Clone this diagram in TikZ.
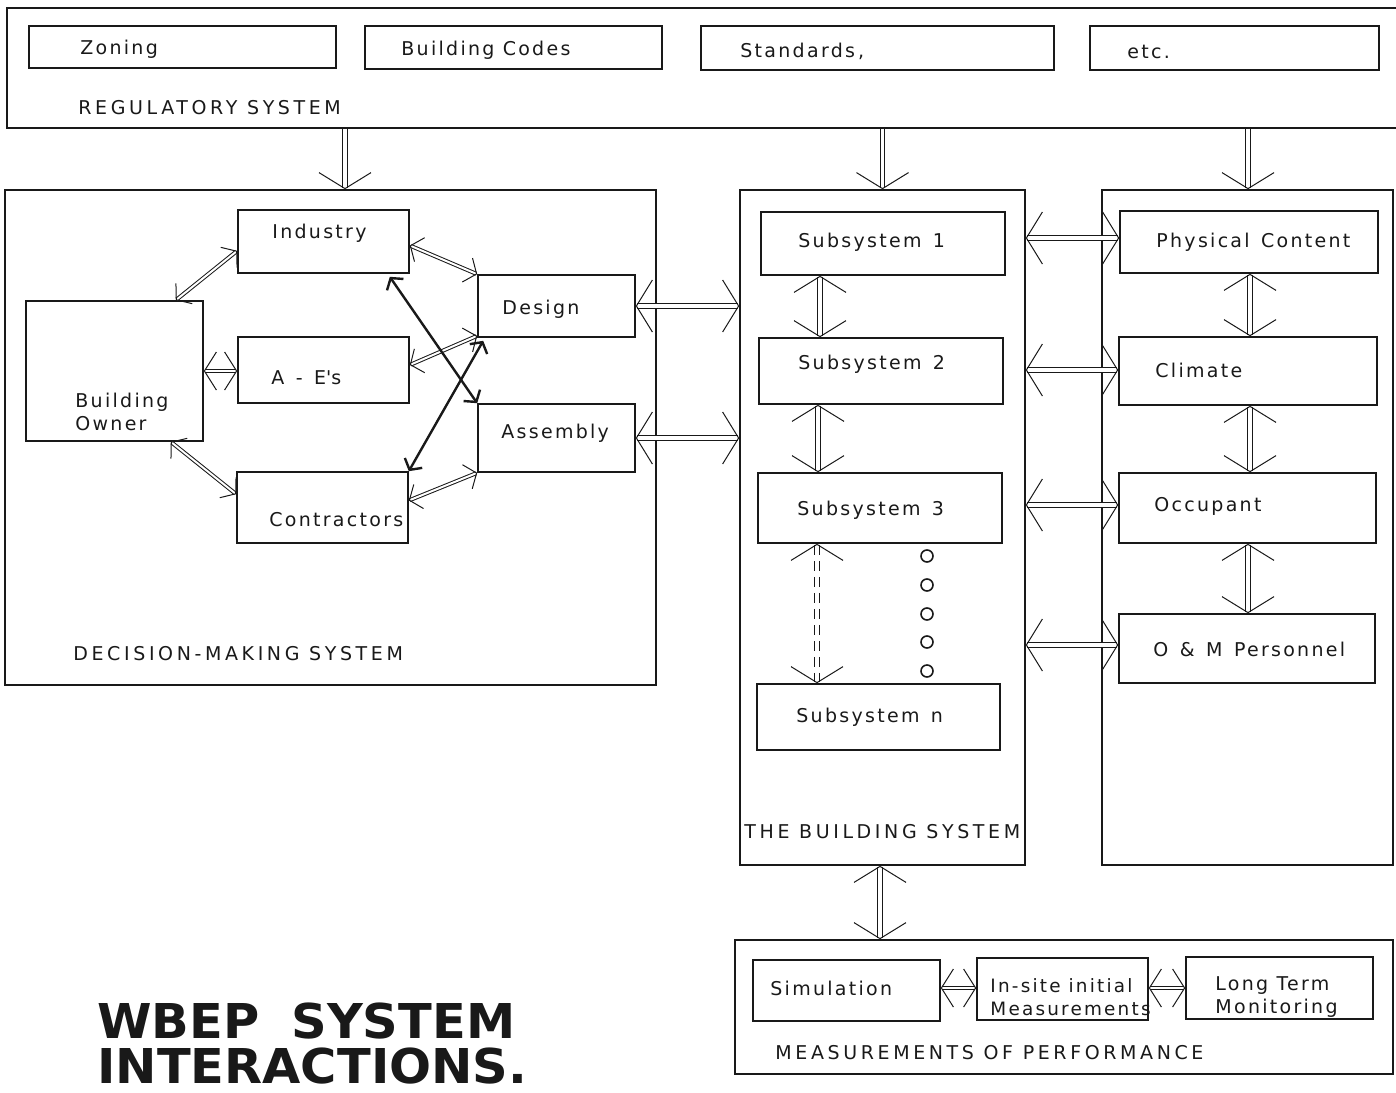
\documentclass[tikz,border=0pt]{standalone}
\usepackage{fontspec}
\setmainfont{DejaVu Sans}[LetterSpace=12]
\newfontfamily\capsfont{DejaVu Sans}[LetterSpace=19]
\newfontfamily\titlefont{DejaVu Sans}[FakeStretch=1.03]
\usetikzlibrary{arrows.meta, fit, calc}
\definecolor{ink}{RGB}{25, 25, 25}

\begin{document}
\begin{tikzpicture}[x=0.5pt, y=-0.5pt,
            box/.style={draw=ink, thick, rectangle, inner sep=0pt},
            frame/.style={draw=ink, thick, rectangle, inner sep=0pt},
            txt/.style={anchor=west, inner sep=0pt, align=left, font=\fontsize{9.5}{11.5}\selectfont, text=ink},
            caps/.style={txt, font=\capsfont\fontsize{9.5}{11.5}\selectfont},
            title/.style={anchor=base west, inner sep=0pt, text=ink, font=\titlefont\bfseries\fontsize{24}{24}\selectfont},
            dot/.style={circle, draw=ink, thick, minimum size=6pt, inner sep=0pt},
            >={Straight Barb[length=8pt, width=26pt]},
            arrow/.style={<->, draw=ink, line width=0.5pt, double=white, double distance=1.6pt},
            down/.style={->, draw=ink, line width=0.5pt, double=white, double distance=1.6pt},
            short/.style={{Straight Barb[length=6pt, width=19pt]}-{Straight Barb[length=6pt, width=19pt]}, draw=ink, line width=0.5pt, double=white, double distance=1.2pt},
            slim/.style={{Straight Barb[length=5pt, width=13pt]}-{Straight Barb[length=5pt, width=13pt]}, draw=ink, line width=0.5pt, double=white, double distance=1pt},
            cross/.style={{Straight Barb[length=4pt, width=10pt]}-{Straight Barb[length=4pt, width=10pt]}, draw=ink, line width=1.2pt}
        ]
            \useasboundingbox (0,0) rectangle (1396,1092);

            % regulatory system
            \node[frame, fit={(7,8) (1400,128)}] (regulatory) {};
            \node[box, fit={(29,26) (336,68)}] (zoning) {};
            \node[box, fit={(365,26) (662,69)}] (codes) {};
            \node[box, fit={(701,26) (1054,70)}] (standards) {};
            \node[box, fit={(1090,26) (1379,70)}] (etc) {};
            \node[txt] (zoning-t) at (80,49) {Zoning};
            \node[txt] (codes-t) at (401,50) {Building Codes};
            \node[txt] (standards-t) at (740,51) {Standards\,,};
            \node[txt] (etc-t) at (1127,52) {etc.};
            \node[caps] (regulatory-t) at (78,108) {REGULATORY SYSTEM};

            % decision-making system
            \node[frame, fit={(5,190) (656,685)}] (decision) {};
            \node[box, fit={(238,210) (409,273)}] (industry) {};
            \node[box, fit={(26,301) (203,441)}] (owner) {};
            \node[box, fit={(238,337) (409,403)}] (ae) {};
            \node[box, fit={(237,472) (408,543)}] (contractors) {};
            \node[box, fit={(478,275) (635,337)}] (design) {};
            \node[box, fit={(478,404) (635,472)}] (assembly) {};
            \node[txt] (industry-t) at (272,233) {Industry};
            \node[txt] (owner-t) at (75,412) {Building\\Owner};
            \node[txt] (ae-t) at (271,378) {A \,-\, E\textquotesingle s};
            \node[txt] (contractors-t) at (269,520) {Contractors};
            \node[txt] (design-t) at (502,309) {Design};
            \node[txt] (assembly-t) at (501,433) {Assembly};
            \node[caps] (decision-t) at (73,654) {DECISION-MAKING SYSTEM};

            % the building system
            \node[frame, fit={(740,190) (1025,865)}] (building) {};
            \node[box, fit={(761,212) (1005,275)}] (sub1) {};
            \node[box, fit={(759,338) (1003,404)}] (sub2) {};
            \node[box, fit={(758,473) (1002,543)}] (sub3) {};
            \node[box, fit={(757,684) (1000,750)}] (subn) {};
            \node[txt] (sub1-t) at (798,242) {Subsystem \,1};
            \node[txt] (sub2-t) at (798,364) {Subsystem \,2};
            \node[txt] (sub3-t) at (797,510) {Subsystem \,3};
            \node[txt] (subn-t) at (796,717) {Subsystem \,n};
            \node[caps] (building-t) at (744,832) {THE BUILDING SYSTEM};
            \foreach \y [count=\i] in {556,585,614,642,671}
                \node[dot] (dot\i) at (927,\y) {};

            % environment
            \node[frame, fit={(1102,190) (1393,865)}] (environment) {};
            \node[box, fit={(1120,211) (1378,273)}] (content) {};
            \node[box, fit={(1119,337) (1377,405)}] (climate) {};
            \node[box, fit={(1119,473) (1376,543)}] (occupant) {};
            \node[box, fit={(1119,614) (1375,683)}] (personnel) {};
            \node[txt] (content-t) at (1156,242) {Physical \,Content};
            \node[txt] (climate-t) at (1155,370) {Climate};
            \node[txt] (occupant-t) at (1154,506) {Occupant};
            \node[txt] (personnel-t) at (1153,649) {O \,\& \,M \,Personnel};

            % measurements of performance
            \node[frame, fit={(735,940) (1393,1074)}] (performance) {};
            \node[box, fit={(753,960) (940,1021)}] (simulation) {};
            \node[box, fit={(977,958) (1148,1020)}] (insite) {};
            \node[box, fit={(1186,957) (1373,1019)}] (longterm) {};
            \node[txt] (simulation-t) at (770,988) {Simulation};
            \node[txt, font=\fontsize{9.2}{11.5}\selectfont] (insite-t) at (990,997) {In-site initial\\Measurements};
            \node[txt] (longterm-t) at (1215,997) {Long Term\\Monitoring};
            \node[caps] (performance-t) at (775,1053) {MEASUREMENTS OF PERFORMANCE};

            % title
            \node[title] (title-a) at (97,1038) {WBEP\hspace{16pt}SYSTEM};
            \node[title] (title-b) at (97,1083) {INTERACTIONS.};

            % connectors
            \draw[down] (regulatory.south -| 345,0) -- (decision.north -| 345,0);
            \draw[down] (regulatory.south -| building.north) -- (building.north);
            \draw[down] (regulatory.south -| 1248,0) -- (environment.north -| 1248,0);

            \draw[slim] ($(owner.north east)+(-28,0)$) -- ($(industry.south west)+(0,-23)$);
            \draw[short] (owner.east) -- (owner.east -| ae.west);
            \draw[slim] ($(owner.south east)+(-33,0)$) -- ($(contractors.north west)+(0,23)$);
            \draw[slim] ($(industry.east)+(0,4)$) -- (design.north west);
            \draw[slim] ($(ae.east)+(0,-5)$) -- ($(design.south west)+(0,-2)$);
            \draw[slim] ($(contractors.east)+(0,-7)$) -- (assembly.south west);
            \draw[cross] ($(industry.south east)+(-20,3)$) -- (assembly.north west);
            \draw[cross] (contractors.north east) -- ($(design.south west)+(6,3)$);

            \draw[arrow] (design.east) -- (design.east -| building.west);
            \draw[arrow] (assembly.east) -- (assembly.east -| building.west);

            \draw[arrow] (sub1.south -| 820,0) -- (sub2.north -| 820,0);
            \draw[arrow] (sub2.south -| 818,0) -- (sub3.north -| 818,0);
            \draw[arrow, dash pattern=on 5pt off 3pt] (sub3.south -| 817,0) -- (subn.north -| 817,0);

            \draw[arrow] (building.east |- 0,238) -- (content.west |- 0,238);
            \draw[arrow] (building.east |- 0,370) -- (climate.west |- 0,370);
            \draw[arrow] (building.east |- 0,505) -- (occupant.west |- 0,505);
            \draw[arrow] (building.east |- 0,645) -- (personnel.west |- 0,645);

            \draw[arrow] (content.south -| 1250,0) -- (climate.north -| 1250,0);
            \draw[arrow] (climate.south -| 1250,0) -- (occupant.north -| 1250,0);
            \draw[arrow] (occupant.south -| 1248,0) -- (personnel.north -| 1248,0);

            \draw[arrow] (building.south -| 880,0) -- (performance.north -| 880,0);
            \draw[short] (simulation.east |- 0,988) -- (insite.west |- 0,988);
            \draw[short] (insite.east |- 0,988) -- (longterm.west |- 0,988);
        \end{tikzpicture}
\end{document}
